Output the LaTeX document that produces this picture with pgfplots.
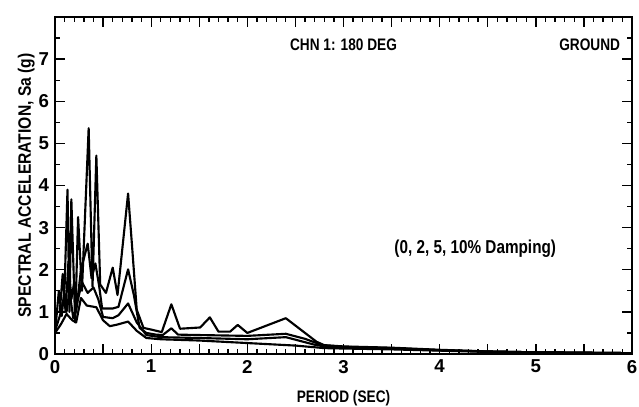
\documentclass[border=0pt]{standalone}
\usepackage{fontspec}
\setmainfont{Liberation Sans}
\newfontfamily\nf{Liberation Sans}[FakeStretch=0.82]
\newfontfamily\nfy{Liberation Sans}[FakeStretch=0.87]
\usepackage{pgfplots}
\pgfplotsset{compat=1.18}
\usetikzlibrary{calc}
\begin{document}
\begin{tikzpicture}
\begin{axis}[
  scale only axis,
  width=432.75pt, height=252.75pt,
  xmin=0, xmax=6, ymin=0, ymax=8,
  xtick={0,0.5,...,6},
  xticklabels={0,,1,,2,,3,,4,,5,,6},
  minor x tick num=4,
  ytick={0,1,...,7},
  minor ytick={0.5,1.5,...,7.5},
  tick align=inside,
  major tick length=7.5pt,
  minor tick length=4pt,
  every tick/.style={line width=1pt, black},
  axis line style={line width=1.5pt},
  /pgf/number format/assume math mode=true,
  ticklabel style={font=\bfseries\fontsize{14}{14}\selectfont},
  xticklabel style={yshift=-1pt},
  yticklabel style={xshift=-1pt},
  xlabel={\nf\bfseries\fontsize{12.5}{12.5}\selectfont PERIOD (SEC)},
  ylabel={\nfy\bfseries\fontsize{13.5}{13.5}\selectfont SPECTRAL ACCELERATION, Sa (g)},
  xlabel style={yshift=-6pt},
  ylabel style={yshift=-4pt},
  every axis plot post/.style={black, line width=1.6pt, line join=round, mark=none},
  clip=true,
]
% 0% damping
\addplot coordinates {(0.00,0.50)(0.04,1.50)(0.07,0.90)(0.10,1.60)(0.13,3.90)(0.15,1.00)(0.17,3.67)(0.21,0.75)(0.24,3.25)(0.28,1.50)(0.35,5.36)(0.39,1.60)(0.43,4.71)(0.47,1.65)(0.53,1.45)(0.60,2.05)(0.65,1.40)(0.76,3.81)(0.80,2.60)(0.85,1.05)(0.92,0.62)(1.00,0.58)(1.11,0.52)(1.21,1.18)(1.30,0.60)(1.51,0.63)(1.61,0.87)(1.70,0.53)(1.82,0.53)(1.90,0.69)(2.00,0.50)(2.40,0.85)(2.72,0.29)(2.80,0.21)(3.00,0.18)(3.50,0.15)(4.00,0.10)(4.50,0.06)(5.00,0.04)(5.50,0.03)(6.00,0.02)};
% 2% damping
\addplot coordinates {(0.00,1.00)(0.05,1.00)(0.08,1.90)(0.11,1.00)(0.14,2.20)(0.17,1.30)(0.20,1.70)(0.22,1.00)(0.27,2.00)(0.34,2.62)(0.38,1.80)(0.42,2.15)(0.46,1.60)(0.49,1.08)(0.60,1.08)(0.66,1.12)(0.76,2.01)(0.82,1.40)(0.88,0.62)(0.95,0.50)(1.05,0.46)(1.12,0.45)(1.21,0.61)(1.28,0.46)(1.50,0.45)(2.00,0.43)(2.40,0.48)(2.60,0.36)(2.78,0.21)(3.00,0.17)(3.50,0.14)(4.00,0.09)(4.50,0.06)(5.00,0.04)(5.50,0.03)(6.00,0.02)};
% 5% damping
\addplot coordinates {(0.00,0.55)(0.05,0.90)(0.09,1.30)(0.12,1.00)(0.15,1.50)(0.19,0.85)(0.22,1.10)(0.28,1.71)(0.34,1.45)(0.40,1.58)(0.45,1.30)(0.50,0.88)(0.60,0.85)(0.66,0.92)(0.76,1.20)(0.85,0.75)(0.95,0.45)(1.10,0.40)(1.50,0.38)(2.00,0.35)(2.40,0.40)(2.70,0.22)(2.80,0.18)(3.00,0.16)(3.50,0.13)(4.00,0.09)(4.50,0.06)(5.00,0.04)(5.50,0.03)(6.00,0.02)};
% 10% damping
\addplot coordinates {(0.00,0.50)(0.06,0.70)(0.12,0.95)(0.18,0.80)(0.22,0.75)(0.27,1.33)(0.33,1.15)(0.43,1.11)(0.50,0.80)(0.57,0.66)(0.65,0.70)(0.76,0.77)(0.85,0.55)(0.95,0.38)(1.10,0.35)(1.50,0.32)(2.00,0.26)(2.50,0.20)(2.80,0.14)(3.00,0.13)(3.50,0.11)(4.00,0.08)(4.50,0.05)(5.00,0.04)(5.50,0.03)(6.00,0.02)};
\node[font=\nf\bfseries\fontsize{12.5}{12.5}\selectfont] at (axis cs:3.0,7.33) {CHN 1: 180 DEG};
\node[font=\nf\bfseries\fontsize{12.5}{12.5}\selectfont] at (axis cs:5.56,7.33) {GROUND};
\node[font=\nf\bfseries\fontsize{14}{14}\selectfont] at (axis cs:4.37,2.49) {(0, 2, 5, 10\% Damping)};
\end{axis}
\pgfresetboundingbox
\path ($(current axis.south west)+(-41.25pt,-39pt)$) rectangle ($(current axis.north east)+(5.25pt,12.75pt)$);
\end{tikzpicture}
\end{document}
